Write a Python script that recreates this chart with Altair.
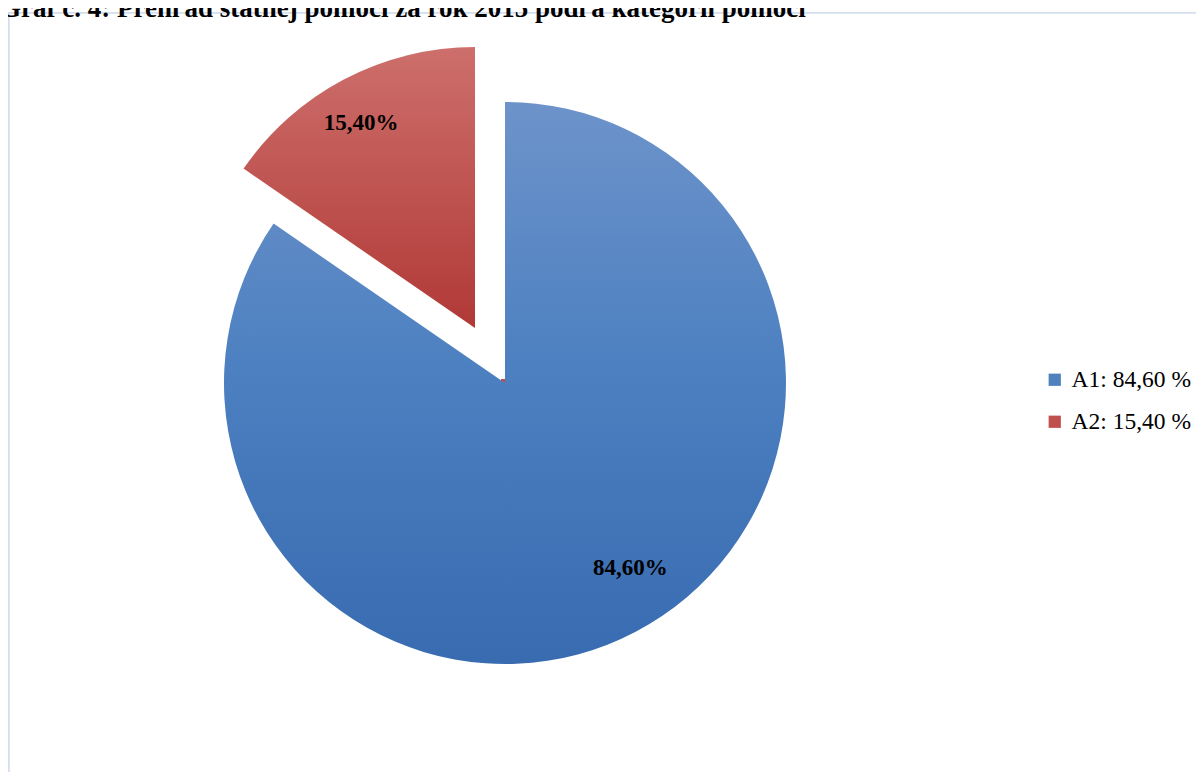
import altair as alt
import pandas as pd

categories = ["A1", "A2"]
values = [84.60, 15.40]
slice_labels = ["84,60%", "15,40%"]
legend_labels = ["A1: 84,60 %", "A2: 15,40 %"]
order = [1, 2]
title_text = ["Graf č. 4: Prehľad štátnej pomoci za rok 2015 podľa kategórií pomoci"]

df = pd.DataFrame({
    "cat": categories,
    "value": values,
    "lab": slice_labels,
    "leg": legend_labels,
    "ord": order,
})
df_title = pd.DataFrame({"t": title_text})

TOP = 20                 # top padding (view origin at page y = 8 + TOP)
SH = TOP - 4             # shift versus border top line
W, H = 1188, 744
CX, CY = 497, 371 - SH   # pie centre (view coords)
EX, EY = 467, 316 - SH   # exploded A2 centre
R = 281

base = (
    alt.Chart(df)
    .transform_stack(stack="value", groupby=[], as_=["t0", "t1"], sort=[alt.SortField("ord")])
    .transform_calculate(mid="(datum.t0 + datum.t1) / 2")
)
tscale = alt.Scale(domain=[0, 100], range=[0, 6.283185307])

blue_grad = alt.LinearGradient(
    gradient="linear", x1=0, y1=0, x2=0, y2=1,
    stops=[alt.GradientStop(offset=0, color="#6d93ca"),
           alt.GradientStop(offset=0.5, color="#4b7fc0"),
           alt.GradientStop(offset=1, color="#386bb0")],
)
red_grad = alt.LinearGradient(
    gradient="linear", x1=0, y1=0, x2=0, y2=1,
    stops=[alt.GradientStop(offset=0, color="#cd6f6c"),
           alt.GradientStop(offset=1, color="#b13936")],
)

legend_layer = base.mark_square(size=64, opacity=1).encode(
    x=alt.value(CX), y=alt.value(CY),
    fill=alt.Fill(
        "leg:N",
        scale=alt.Scale(domain=legend_labels, range=["#4f81bd", "#c0504d"]),
        legend=alt.Legend(
            title=None, orient="none", legendX=1035, legendY=356 - SH,
            symbolType="square", symbolSize=150, symbolStrokeWidth=0,
            labelFont="Liberation Serif", labelFontSize=23.5, labelColor="black",
            labelOffset=5, rowPadding=17, labelLimit=300, padding=0,
        ),
    ),
)

a1 = base.transform_filter("datum.cat == 'A1'").mark_arc(color=blue_grad, radius=R).encode(
    theta=alt.Theta("t0:Q", scale=tscale), theta2="t1:Q",
    x=alt.value(CX), y=alt.value(CY),
)
a2 = base.transform_filter("datum.cat == 'A2'").mark_arc(color=red_grad, radius=R).encode(
    theta=alt.Theta("t0:Q", scale=tscale), theta2="t1:Q",
    x=alt.value(EX), y=alt.value(EY),
)

txt_style = dict(font="Liberation Serif", fontSize=23, fontWeight="bold", color="black",
                 align="center", baseline="middle")
t1 = base.transform_filter("datum.cat == 'A1'").mark_text(dx=22, dy=-12, **txt_style).encode(
    theta=alt.Theta("mid:Q", scale=tscale), radius=alt.value(222),
    x=alt.value(CX), y=alt.value(CY), text="lab:N",
)
t2 = base.transform_filter("datum.cat == 'A2'").mark_text(dx=-6, dy=0, **txt_style).encode(
    theta=alt.Theta("mid:Q", scale=tscale), radius=alt.value(232),
    x=alt.value(EX), y=alt.value(EY), text="lab:N",
)

border_left = alt.Chart(df).mark_rule(color="#d3deee", strokeWidth=1.5).encode(
    x=alt.value(0.75), y=alt.value(-SH), y2=alt.value(H)
)
border_top = alt.Chart(df).mark_rule(color="#d3deee", strokeWidth=1.5).encode(
    y=alt.value(0.75 - SH), x=alt.value(0), x2=alt.value(W)
)

title_layer = alt.Chart(df_title).mark_text(
    font="Liberation Serif", fontSize=27, fontWeight="bold", color="black",
    align="left", baseline="alphabetic",
).encode(x=alt.value(-8), y=alt.value(17 - 8 - TOP), text="t:N")

chart = (
    alt.layer(border_left, border_top, legend_layer, a1, a2, t1, t2, title_layer)
    .properties(
        width=W, height=H,
        autosize=alt.AutoSizeParams(type="none"),
        padding={"left": 0, "top": TOP, "right": 0, "bottom": 0},
    )
    .configure_view(stroke=None)
)

chart.save("out.html", embed_options={"renderer": "svg", "actions": False})
